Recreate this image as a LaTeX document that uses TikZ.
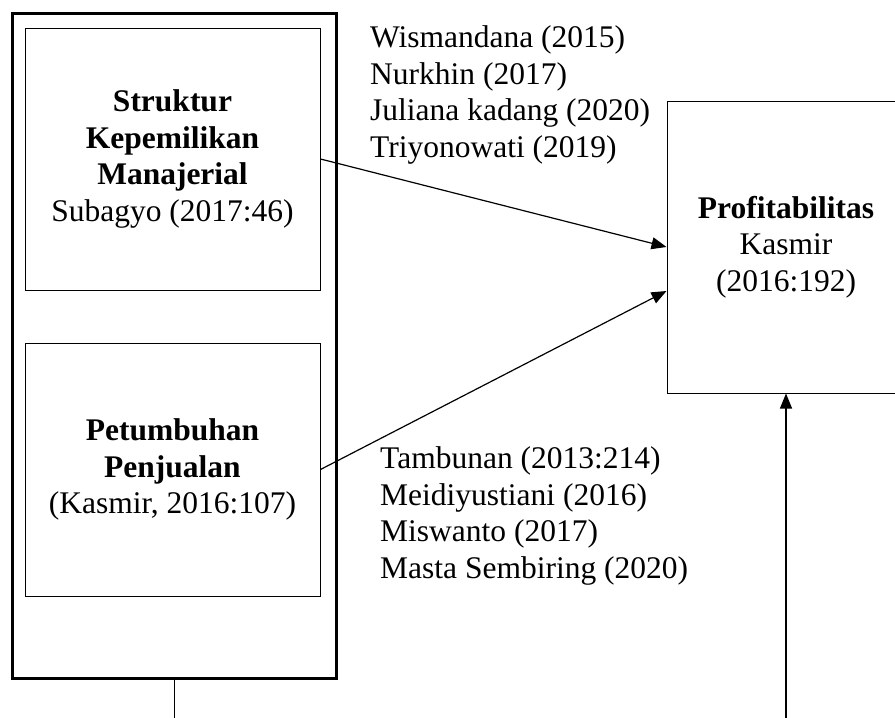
\documentclass[tikz,border=0pt]{standalone}
\usepackage{fontspec}
\setmainfont{Liberation Serif}
\usetikzlibrary{arrows.meta}
\tikzset{
  kotak/.style={draw, line width=1pt, align=center, inner sep=0pt},
  panah/.style={-{Triangle[length=15pt,width=12pt]}, line width=1.2pt},
  rujukan/.style={align=left, inner sep=0pt, anchor=base west},
}
\begin{document}
\begin{tikzpicture}[x=1pt,y=-1pt,font=\fontsize{31.5}{36.5}\selectfont]
  \useasboundingbox (0,0) rectangle (895,718);
  \clip (0,0) rectangle (895,718);
  % variabel bebas
  \node[draw, line width=3pt, minimum width=324pt, minimum height=665pt] (luar) at (174,345.5) {};
  \node[kotak, minimum width=295pt, minimum height=262pt] (struktur) at (172.5,159)
    {\textbf{Struktur}\\\textbf{Kepemilikan}\\\textbf{Manajerial}\\Subagyo (2017:46)};
  \node[kotak, minimum width=295pt, minimum height=253pt] (penjualan) at (172.5,469.5)
    {\textbf{Petumbuhan}\\\textbf{Penjualan}\\(Kasmir, 2016:107)};
  % variabel terikat
  \node[kotak, minimum width=238pt, minimum height=292pt] (profit) at (786,247)
    {\textbf{Profitabilitas}\\Kasmir\\(2016:192)};
  % rujukan (base = baris terakhir)
  \node[rujukan] (rujukan1) at (370,157)
    {Wismandana (2015)\\Nurkhin (2017)\\Juliana kadang (2020)\\Triyonowati (2019)};
  \node[rujukan] (rujukan2) at (380,578)
    {Tambunan (2013:214)\\Meidiyustiani (2016)\\Miswanto (2017)\\Masta Sembiring (2020)};
  % panah
  \draw[panah] (struktur.east) -- (profit.west);
  \draw[panah] (penjualan.east) -- ([yshift=-44pt]profit.west);
  \coordinate (bawahkiri) at (174,718);
  \coordinate (bawahkanan) at (786,718);
  \draw[line width=1pt] (luar.south) -- (bawahkiri);
  \draw[panah] (bawahkanan) -- (profit.south);
\end{tikzpicture}
\end{document}
